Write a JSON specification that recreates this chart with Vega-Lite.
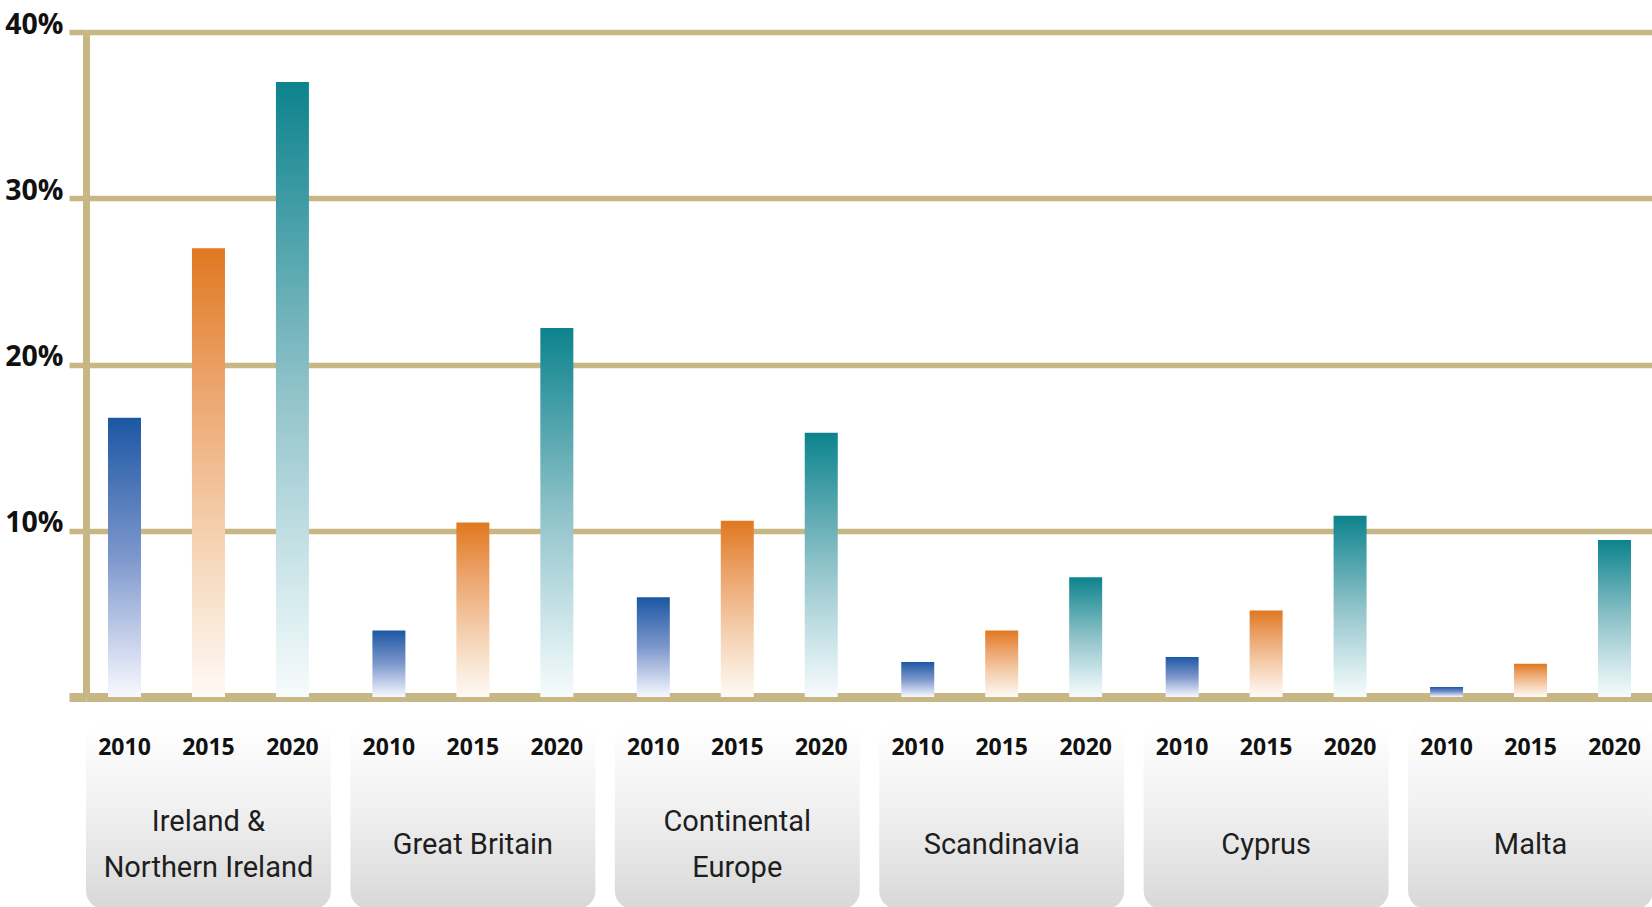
{
  "$schema": "https://vega.github.io/schema/vega-lite/v6.json",
  "padding": {"left": 4, "top": 10, "right": 0, "bottom": 0},
  "background": "white",
  "bounds": "flush",
  "spacing": 26,
  "config": {"view": {"stroke": null}},
  "datasets": {
    "shares": [
      {"region": "Ireland & Northern Ireland", "year": "2010", "value": 16.8},
      {"region": "Ireland & Northern Ireland", "year": "2015", "value": 27.0},
      {"region": "Ireland & Northern Ireland", "year": "2020", "value": 37.0},
      {"region": "Great Britain", "year": "2010", "value": 4.0},
      {"region": "Great Britain", "year": "2015", "value": 10.5},
      {"region": "Great Britain", "year": "2020", "value": 22.2},
      {"region": "Continental Europe", "year": "2010", "value": 6.0},
      {"region": "Continental Europe", "year": "2015", "value": 10.6},
      {"region": "Continental Europe", "year": "2020", "value": 15.9},
      {"region": "Scandinavia", "year": "2010", "value": 2.1},
      {"region": "Scandinavia", "year": "2015", "value": 4.0},
      {"region": "Scandinavia", "year": "2020", "value": 7.2},
      {"region": "Cyprus", "year": "2010", "value": 2.4},
      {"region": "Cyprus", "year": "2015", "value": 5.2},
      {"region": "Cyprus", "year": "2020", "value": 10.9},
      {"region": "Malta", "year": "2010", "value": 0.6},
      {"region": "Malta", "year": "2015", "value": 2.0},
      {"region": "Malta", "year": "2020", "value": 9.45}
    ],
    "regions": [
      {"region": "Ireland & Northern Ireland", "label": "Ireland &\nNorthern Ireland", "lines": 2},
      {"region": "Great Britain", "label": "Great Britain", "lines": 1},
      {"region": "Continental Europe", "label": "Continental\nEurope", "lines": 2},
      {"region": "Scandinavia", "label": "Scandinavia", "lines": 1},
      {"region": "Cyprus", "label": "Cyprus", "lines": 1},
      {"region": "Malta", "label": "Malta", "lines": 1}
    ]
  },
  "vconcat": [
    {
      "width": 1567,
      "height": 665,
      "data": {"name": "shares"},
      "encoding": {
        "x": {
          "field": "region", "type": "nominal",
          "scale": {"domain": ["Ireland & Northern Ireland", "Great Britain", "Continental Europe", "Scandinavia", "Cyprus", "Malta"], "paddingInner": 0.0737, "paddingOuter": 0},
          "axis": null
        },
        "xOffset": {
          "field": "year", "type": "nominal",
          "scale": {"domain": ["2010", "2015", "2020"], "paddingInner": 0.607, "paddingOuter": 0.262}
        },
        "y": {
          "field": "value", "type": "quantitative",
          "scale": {"domain": [0, 40], "nice": false},
          "axis": {
            "title": null,
            "values": [0, 10, 20, 30, 40],
            "labelExpr": "datum.value === 0 ? '' : datum.value + '%'",
            "grid": true,
            "gridColor": "#c6b785",
            "gridWidth": {"condition": {"test": "datum.value === 0", "value": 9}, "value": 5.5},
            "gridOpacity": 1,
            "tickColor": "#c6b785",
            "tickSize": 17,
            "tickWidth": {"condition": {"test": "datum.value === 0", "value": 9}, "value": 5.5},
            "domainColor": "#c6b785",
            "domainWidth": 7,
            "labelFont": "Open Sans",
            "labelFontWeight": "bold",
            "labelFontSize": 28.5,
            "labelColor": "#111111",
            "labelPadding": 6,
            "labelOffset": -8,
            "zindex": 0
          }
        }
      },
      "layer": [
        {
          "transform": [{"filter": "datum.year === '2010'"}],
          "mark": {"type": "bar", "color": {"gradient": "linear", "x1": 0, "y1": 0, "x2": 0, "y2": 1, "stops": [
            {"offset": 0, "color": "#1c57a3"},
            {"offset": 0.5, "color": "#7d97cc"},
            {"offset": 0.85, "color": "#d3dcf0"},
            {"offset": 1, "color": "#f8f9fd"}
          ]}}
        },
        {
          "transform": [{"filter": "datum.year === '2015'"}],
          "mark": {"type": "bar", "color": {"gradient": "linear", "x1": 0, "y1": 0, "x2": 0, "y2": 1, "stops": [
            {"offset": 0, "color": "#e07820"},
            {"offset": 0.3, "color": "#eca36b"},
            {"offset": 0.65, "color": "#f5d2b2"},
            {"offset": 1, "color": "#fefaf6"}
          ]}}
        },
        {
          "transform": [{"filter": "datum.year === '2020'"}],
          "mark": {"type": "bar", "color": {"gradient": "linear", "x1": 0, "y1": 0, "x2": 0, "y2": 1, "stops": [
            {"offset": 0, "color": "#0c838d"},
            {"offset": 0.5, "color": "#8fc2c9"},
            {"offset": 0.85, "color": "#d8ecef"},
            {"offset": 1, "color": "#f7fbfc"}
          ]}}
        }
      ]
    },
    {
      "width": 1567,
      "height": 186,
      "encoding": {
        "x": {
          "field": "region", "type": "nominal",
          "scale": {"domain": ["Ireland & Northern Ireland", "Great Britain", "Continental Europe", "Scandinavia", "Cyprus", "Malta"], "paddingInner": 0.0737, "paddingOuter": 0},
          "axis": null
        }
      },
      "layer": [
        {
          "data": {"name": "regions"},
          "mark": {"type": "rect", "cornerRadius": 18, "color": {"gradient": "linear", "x1": 0, "y1": 0, "x2": 0, "y2": 1, "stops": [
            {"offset": 0, "color": "#ffffff"},
            {"offset": 0.45, "color": "#f1f1f1"},
            {"offset": 1, "color": "#d8d8d8"}
          ]}}
        },
        {
          "data": {"name": "shares"},
          "mark": {"type": "text", "font": "Open Sans", "fontWeight": "bold", "fontSize": 23, "color": "#111111", "baseline": "middle", "dy": -68},
          "encoding": {
            "xOffset": {
              "field": "year", "type": "nominal",
              "scale": {"domain": ["2010", "2015", "2020"], "paddingInner": 0.607, "paddingOuter": 0.262}
            },
            "text": {"field": "year"}
          }
        },
        {
          "data": {"name": "regions"},
          "transform": [{"filter": "datum.lines === 1"}],
          "mark": {"type": "text", "font": "Roboto", "fontSize": 29, "color": "#1e1e1e", "baseline": "middle", "dy": 29},
          "encoding": {"text": {"field": "label"}}
        },
        {
          "data": {"name": "regions"},
          "transform": [{"filter": "datum.lines === 2"}],
          "mark": {"type": "text", "font": "Roboto", "fontSize": 29, "lineBreak": "\n", "lineHeight": 46, "color": "#1e1e1e", "baseline": "middle", "dy": 6},
          "encoding": {"text": {"field": "label"}}
        }
      ]
    }
  ]
}
